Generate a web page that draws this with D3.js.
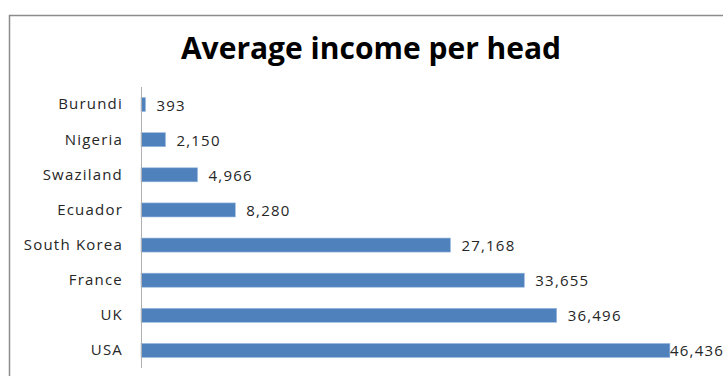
<!DOCTYPE html>
<html>
<head>
<meta charset="utf-8">
<script src="https://cdn.jsdelivr.net/npm/d3@7"></script>
<style>
  body { margin: 0; background: white; }
  svg { display: block; }
</style>
</head>
<body>
<div id="container"></div>
<script>
const countries = ['Burundi', 'Nigeria', 'Swaziland', 'Ecuador', 'South Korea', 'France', 'UK', 'USA']
const incomes = [393, 2150, 4966, 8280, 27168, 33655, 36496, 46436]

const config = {
    width: 723,
    height: 376,
    axisX: 141,
    plotRight: 710.5,
    plotTop: 87,
    plotBottom: 368,
}

const records = countries.map((c, i) => ({country: c, income: incomes[i]}))

const svg = d3.select('#container')
    .append('svg')
    .attr('width', config.width)
    .attr('height', config.height)
    .style('font-family', '"Open Sans", sans-serif')

// chart frame, cropped at right and bottom
svg.append('rect')
    .attr('x', 9.5)
    .attr('y', 15.5)
    .attr('width', 800)
    .attr('height', 500)
    .attr('fill', 'white')
    .attr('stroke', '#8c8c8c')
    .attr('stroke-width', 1.5)

svg.append('text')
    .attr('text-anchor', 'middle')
    .attr('x', 371)
    .attr('y', 59)
    .text('Average income per head')
    .style('font-size', '30px')
    .style('font-weight', 'bold')
    .style('fill', 'black')

const xScale = d3.scaleLinear()
    .domain([0, 50000])
    .range([config.axisX, config.plotRight])

const yScale = d3.scaleBand()
    .domain(countries)
    .range([config.plotTop, config.plotBottom])
    .paddingInner(0.6)
    .paddingOuter(0.3)

svg.append('g')
    .selectAll('rect')
    .data(records)
    .join('rect')
    .attr('x', xScale(0))
    .attr('y', d => yScale(d.country))
    .attr('width', d => xScale(d.income) - xScale(0))
    .attr('height', yScale.bandwidth())
    .attr('fill', '#4f81bd')
    .attr('stroke', '#9dbbe0')
    .attr('stroke-width', 0.6)

const yAxis = svg.append('g')
    .attr('transform', `translate(${config.axisX},0)`)
    .call(d3.axisLeft(yScale).tickSize(0).tickPadding(18))

yAxis.select('.domain')
    .attr('d', `M0.5,${config.plotTop}V${config.plotBottom}`)
    .attr('stroke', '#b0b0b0')

yAxis.selectAll('.tick text')
    .style('font-family', '"Open Sans", sans-serif')
    .style('font-size', '15px')
    .style('letter-spacing', '1.2px')
    .style('fill', '#262626')

svg.append('g')
    .selectAll('text')
    .data(records)
    .join('text')
    .attr('x', d => Math.min(xScale(d.income) + 11, 670))
    .attr('y', d => yScale(d.country) + yScale.bandwidth() / 2)
    .attr('dominant-baseline', 'central')
    .text(d => d3.format(',')(d.income))
    .style('font-size', '15px')
    .style('letter-spacing', '1.2px')
    .style('fill', '#262626')
</script>
</body>
</html>
